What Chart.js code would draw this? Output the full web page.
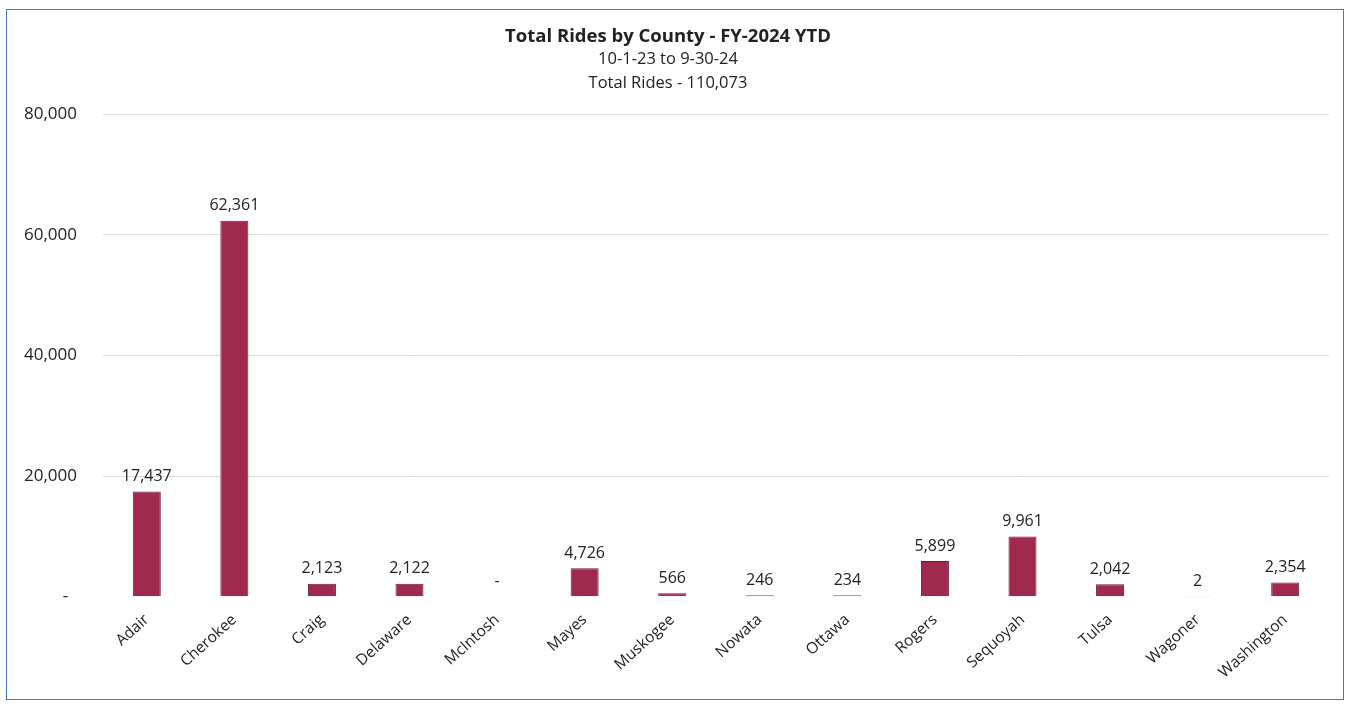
<!DOCTYPE html>
<html>
<head>
<meta charset="utf-8">
<script src="https://cdn.jsdelivr.net/npm/chart.js@4"></script>
<style>
  body { margin: 0; background: #fff; }
  .box {
    position: absolute; left: 6px; top: 9px;
    width: 1336px; height: 689px;
    border: 1.5px solid #3f7db5;
  }
</style>
</head>
<body>
<div class="box"><canvas id="ridesChart"></canvas></div>
<script>
const counties = ['Adair', 'Cherokee', 'Craig', 'Delaware', 'McIntosh', 'Mayes', 'Muskogee',
    'Nowata', 'Ottawa', 'Rogers', 'Sequoyah', 'Tulsa', 'Wagoner', 'Washington'];
const rides = [17437, 62361, 2123, 2122, 0, 4726, 566, 246, 234, 5899, 9961, 2042, 2, 2354];
const yTicks = [0, 20000, 40000, 60000, 80000];
const titleText = 'Total Rides by County - FY-2024 YTD';
const subtitleLines = ['10-1-23 to 9-30-24', 'Total Rides - 110,073'];

const fontName = "'Open Sans', sans-serif";
Chart.defaults.font.family = fontName;
Chart.defaults.color = '#222';

function fmt(v) {
    return v === 0 ? '-' : v.toLocaleString('en-US');
}

// value labels above each bar
const barLabels = {
    id: 'barLabels',
    afterDatasetsDraw(chart) {
        const ctx = chart.ctx;
        const meta = chart.getDatasetMeta(0);
        ctx.save();
        ctx.font = '16px ' + fontName;
        ctx.fillStyle = '#222';
        ctx.textAlign = 'center';
        ctx.textBaseline = 'bottom';
        meta.data.forEach((bar, i) => {
            ctx.fillText(fmt(rides[i]), bar.x, bar.y - 7);
        });
        ctx.restore();
    }
};

const ridesChart = new Chart(document.getElementById('ridesChart'), {
    type: 'bar',
    data: {
        labels: counties,
        datasets: [{
            data: rides,
            backgroundColor: '#a02a4e',
            borderColor: '#6e1c36',
            borderWidth: 1,
            categoryPercentage: 1,
            barPercentage: 0.32
        }]
    },
    options: {
        responsive: true,
        maintainAspectRatio: false,
        animation: false,
        layout: { padding: { left: 0, right: 14, top: 0, bottom: 11 } },
        plugins: {
            legend: { display: false },
            tooltip: { enabled: false },
            title: {
                display: true,
                text: titleText,
                color: '#222',
                font: { size: 18.5, weight: 'bold' },
                padding: { top: 16, bottom: 0 }
            },
            subtitle: {
                display: true,
                text: subtitleLines,
                color: '#222',
                font: { size: 16.5, lineHeight: 1.4 },
                padding: { top: 0, bottom: 20 }
            }
        },
        scales: {
            x: {
                grid: { display: false },
                border: { display: false },
                ticks: {
                    minRotation: 42,
                    maxRotation: 42,
                    font: { size: 15.5 },
                    color: '#222',
                    padding: 6
                }
            },
            y: {
                min: 0,
                max: 80000,
                afterBuildTicks(scale) {
                    scale.ticks = yTicks.map(v => ({ value: v }));
                },
                afterFit(scale) { scale.width = 96; },
                border: { display: false },
                grid: {
                    drawTicks: false,
                    color: ctx => ctx.tick.value === 0 ? 'rgba(0,0,0,0)' : '#dedede',
                    lineWidth: 1
                },
                ticks: {
                    padding: 26,
                    font: { size: 17 },
                    color: '#222',
                    callback: v => v === 0 ? '-  ' : v.toLocaleString('en-US')
                }
            }
        }
    },
    plugins: [barLabels]
});
</script>
</body>
</html>
